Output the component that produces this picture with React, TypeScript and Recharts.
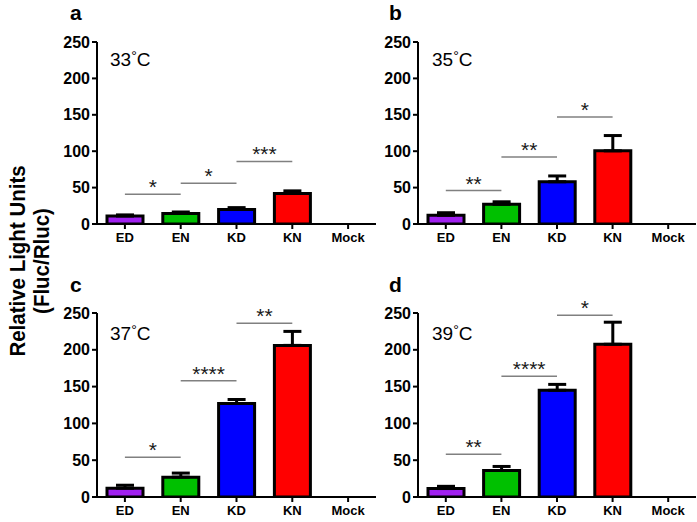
import React from 'react';
import { BarChart, Bar, XAxis, YAxis, Cell, ErrorBar, ReferenceLine } from 'recharts';

const categories = ['ED', 'EN', 'KD', 'KN', 'Mock'];
const barColors = ['#A020F0', '#00C000', '#0000FF', '#FF0000', '#888888'];
const yTicks = [0, 50, 100, 150, 200, 250];

const means33 = [11, 14.5, 20, 42, null];
const err33 = [1.5, 2, 2.5, 3.5, null];
const means35 = [12, 27, 58, 100.5, null];
const err35 = [3.5, 3.5, 8, 21, null];
const means37 = [12, 27, 127, 206, null];
const err37 = [4, 5.5, 5.5, 19, null];
const means39 = [11.5, 36, 145, 207.5, null];
const err39 = [3, 5.5, 8, 30, null];

const sigFrom = ['ED', 'EN', 'KD'];
const sigTo = ['EN', 'KD', 'KN'];
const sigY33 = [41, 56, 86];
const sigLab33 = ['*', '*', '***'];
const sigY35 = [46, 92, 147];
const sigLab35 = ['**', '**', '*'];
const sigY37 = [54, 158, 236];
const sigLab37 = ['*', '****', '**'];
const sigY39 = [58, 164, 247];
const sigLab39 = ['**', '****', '*'];

const panelLetters = ['a', 'b', 'c', 'd'];
const tempNumbers = ['33', '35', '37', '39'];
const yTitleLines = ['Relative Light Units', '(Fluc/Rluc)'];

const FONT = '"Liberation Sans", Arial, Helvetica, sans-serif';

const buildRows = (means: (number | null)[], errs: (number | null)[]) =>
  categories.map((c, i) => ({
    cat: c,
    v: means[i],
    e: errs[i] == null ? null : [0, errs[i] as number],
  }));

const panels = [
  { means: means33, errs: err33, sigY: sigY33, sigLab: sigLab33, box: { left: 0, top: 0, width: 380, height: 262 }, margin: { top: 42, right: 4, bottom: 8, left: 47 }, xh: 30 },
  { means: means35, errs: err35, sigY: sigY35, sigLab: sigLab35, box: { left: 321, top: 0, width: 376, height: 262 }, margin: { top: 42, right: 1, bottom: 8, left: 47 }, xh: 30 },
  { means: means37, errs: err37, sigY: sigY37, sigLab: sigLab37, box: { left: 0, top: 262, width: 380, height: 260 }, margin: { top: 51, right: 4, bottom: 3, left: 47 }, xh: 22 },
  { means: means39, errs: err39, sigY: sigY39, sigLab: sigLab39, box: { left: 321, top: 262, width: 376, height: 260 }, margin: { top: 51, right: 1, bottom: 3, left: 47 }, xh: 22 },
];

const letterPos = [
  { x: 70, y: 20 },
  { x: 389, y: 20 },
  { x: 70, y: 292 },
  { x: 389, y: 292 },
];
const tempPos = [
  { x: 110, y: 66 },
  { x: 432, y: 66 },
  { x: 110, y: 340 },
  { x: 432, y: 340 },
];
const yTitlePos = [
  { x: 25, y: 261 },
  { x: 49, y: 261 },
];

function Panel({ p }: { p: typeof panels[number] }) {
  const rows = buildRows(p.means, p.errs);
  return (
    <div style={{ position: 'absolute', left: p.box.left, top: p.box.top }}>
      <BarChart width={p.box.width} height={p.box.height} data={rows} margin={p.margin}>
        <XAxis
          dataKey="cat"
          height={p.xh}
          axisLine={{ stroke: '#000', strokeWidth: 2 }}
          tickLine={{ stroke: '#000', strokeWidth: 2 }}
          tickSize={5}
          tickMargin={4}
          interval={0}
          tick={{ fill: '#000', fontSize: 13, fontWeight: 'bold', fontFamily: FONT }}
        />
        <YAxis
          width={50}
          domain={[0, 250]}
          ticks={yTicks}
          allowDataOverflow
          axisLine={{ stroke: '#000', strokeWidth: 2 }}
          tickLine={{ stroke: '#000', strokeWidth: 2 }}
          tickSize={5}
          tickMargin={2}
          tick={{ fill: '#000', fontSize: 16, fontWeight: 'bold', fontFamily: FONT }}
        />
        {p.sigY.map((y, i) => (
          <ReferenceLine
            key={i}
            segment={[{ x: sigFrom[i], y }, { x: sigTo[i], y }]}
            stroke="#808080"
            strokeWidth={1.5}
            ifOverflow="visible"
            label={{ value: p.sigLab[i], position: 'top', offset: 0, fill: '#1a1a1a', fontSize: 21, fontFamily: FONT }}
          />
        ))}
        <Bar dataKey="v" barSize={36} stroke="#000" strokeWidth={3} isAnimationActive={false}>
          {rows.map((r, i) => (
            <Cell key={r.cat} fill={barColors[i]} />
          ))}
          <ErrorBar dataKey="e" direction="y" width={9} stroke="#000" strokeWidth={3} />
        </Bar>
      </BarChart>
    </div>
  );
}

export default function App() {
  return (
    <div style={{ position: 'absolute', left: 0, top: 0, width: 697, height: 522, overflow: 'hidden', background: '#fff', fontFamily: FONT }}>
      {panels.map((p, i) => (
        <Panel key={i} p={p} />
      ))}
      <svg width={697} height={522} style={{ position: 'absolute', left: 0, top: 0, pointerEvents: 'none' }}>
        {yTitleLines.map((t, i) => (
          <text
            key={t}
            x={0}
            y={0}
            transform={`translate(${yTitlePos[i].x}, ${yTitlePos[i].y}) rotate(-90) scale(1, 1.1)`}
            textAnchor="middle"
            fontFamily={FONT}
            fontWeight="bold"
            fontSize={20.5}
            fill="#000"
          >
            {t}
          </text>
        ))}
        {panelLetters.map((l, i) => (
          <text key={l} x={letterPos[i].x} y={letterPos[i].y} fontFamily={FONT} fontWeight="bold" fontSize={21} fill="#000">
            {l}
          </text>
        ))}
        {tempNumbers.map((t, i) => (
          <text key={t} x={tempPos[i].x} y={tempPos[i].y} fontFamily={FONT} fontSize={19} fill="#000">
            {t}
            <tspan fontSize={14} dy={-5}>°</tspan>
            <tspan dy={5}>C</tspan>
          </text>
        ))}
      </svg>
    </div>
  );
}
